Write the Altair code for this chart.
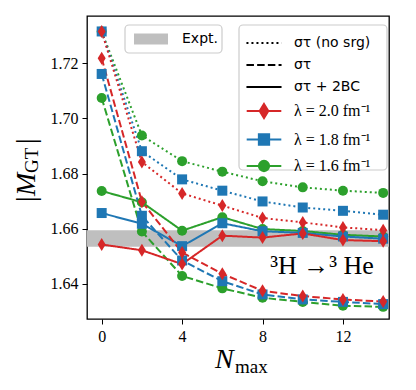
import altair as alt
import pandas as pd

# ---------------- data ----------------
n_max = [0, 2, 4, 6, 8, 10, 12, 14]
lam_labels = ["λ = 2.0 fm⁻¹", "λ = 1.8 fm⁻¹", "λ = 1.6 fm⁻¹"]
style_labels = ["στ (no srg)", "στ", "στ + 2BC"]
colors = ["#d62728", "#1f77b4", "#2ca02c"]

# sigma tau (no srg) -- dotted
nosrg_20 = [1.7315, 1.6842, 1.6728, 1.6684, 1.6639, 1.6623, 1.6605, 1.6595]
nosrg_18 = [1.7315, 1.6881, 1.6779, 1.6738, 1.6699, 1.6677, 1.6665, 1.6651]
nosrg_16 = [1.7315, 1.6938, 1.6845, 1.6807, 1.6772, 1.6750, 1.6738, 1.6730]
# sigma tau -- dashed
st_20 = [1.7218, 1.6698, 1.6514, 1.6437, 1.6375, 1.6356, 1.6344, 1.6336]
st_18 = [1.7161, 1.6647, 1.6485, 1.6410, 1.6362, 1.6344, 1.6335, 1.6327]
st_16 = [1.7074, 1.6590, 1.6429, 1.6384, 1.6350, 1.6335, 1.6321, 1.6317]
# sigma tau + 2BC -- solid
bc_20 = [1.6543, 1.6522, 1.6472, 1.6575, 1.6568, 1.6583, 1.6559, 1.6555]
bc_18 = [1.6657, 1.6618, 1.6537, 1.6620, 1.6591, 1.6585, 1.6572, 1.6564]
bc_16 = [1.6737, 1.6696, 1.6593, 1.6642, 1.6599, 1.6592, 1.6578, 1.6572]

expt_label = ["Expt."]
expt_lo = [1.6535]
expt_hi = [1.6595]

ann_text = ["³H →³ He"]
ann_x = [10.96]
ann_y = [1.6436]

# ---------------- tables ----------------
series = [
    (lam_labels[2], [nosrg_16, st_16, bc_16]),
    (lam_labels[1], [nosrg_18, st_18, bc_18]),
    (lam_labels[0], [nosrg_20, st_20, bc_20]),
]
rows = []
for lam, sets in series:
    for style, vals in zip(style_labels, sets):
        for n, v in zip(n_max, vals):
            rows.append({"N": n, "M": v, "lam": lam, "style": style,
                         "series": lam + "|" + style})
df = pd.DataFrame(rows)
band = pd.DataFrame({"label": expt_label, "lo": expt_lo, "hi": expt_hi})
ann = pd.DataFrame({"t": ann_text, "x": ann_x, "y": ann_y})
one = pd.DataFrame({"a": [0]})

xs = alt.Scale(domain=[-0.73, 14.29], nice=False, zero=False)
ys = alt.Scale(domain=[1.6273, 1.7371], nice=False, zero=False)

SERIF = "Liberation Serif"
SANS = "DejaVu Sans"

x_axis = alt.Axis(values=[0, 4, 8, 12], format="d", title=None, grid=False,
                  domain=False, ticks=True, tickSize=5, tickColor="black",
                  labelFont=SERIF, labelFontSize=16, labelColor="black",
                  labelPadding=4)
y_axis = alt.Axis(values=[1.64, 1.66, 1.68, 1.70, 1.72], format=".2f", title=None,
                  grid=False, domain=False, ticks=True, tickSize=5,
                  tickColor="black", labelFont=SERIF, labelFontSize=16,
                  labelColor="black", labelPadding=4)

X = alt.X("N:Q", scale=xs, axis=x_axis)
Y = alt.Y("M:Q", scale=ys, axis=y_axis)

diamond = "M0,-1.3L0.8,0L0,1.3L-0.8,0Z"
shape_range = [diamond, "square", "circle"]
legend_shapes = [
    "M-3.2,0H3.2M0,-1.3L0.8,0L0,1.3L-0.8,0Z",
    "M-3.2,0H3.2M-0.95,-0.95H0.95V0.95H-0.95Z",
    "M-3.2,0H3.2M0.95,0A0.95,0.95,0,1,1,-0.95,0A0.95,0.95,0,1,1,0.95,0Z",
]

dash_legend = alt.Legend(title=None, orient="none", legendX=170, legendY=20,
                         symbolType="M-4,0H4", symbolSize=77,
                         symbolStrokeWidth=2, symbolStrokeColor="black",
                         labelFont=SANS, labelFontSize=14, labelColor="black",
                         labelOffset=23, rowPadding=8, padding=0)
lam_legend = alt.Legend(title=None, orient="none", legendX=169, legendY=87,
                        symbolSize=117, symbolStrokeWidth=2, symbolOpacity=1,
                        labelFont=SERIF, labelFontSize=16, labelColor="black",
                        labelOffset=22, rowPadding=6.5, padding=0)
expt_legend = alt.Legend(title=None, orient="none", legendX=53, legendY=12,
                         symbolType="M-1.7,-0.55H1.7V0.55H-1.7Z", symbolSize=400,
                         labelFont=SANS, labelFontSize=14, labelColor="black",
                         labelOffset=20, padding=0)

base = alt.Chart(df)

band_layer = alt.Chart(band).mark_rect().encode(
    y=alt.Y("lo:Q", scale=ys, axis=y_axis), y2="hi:Q",
    fill=alt.Fill("label:N", scale=alt.Scale(range=["#bfbfbf"]), legend=expt_legend),
)

lines = base.mark_line(strokeWidth=2).encode(
    x=X, y=Y,
    color=alt.Color("lam:N", scale=alt.Scale(domain=lam_labels, range=colors), legend=None),
    strokeDash=alt.StrokeDash("style:N",
                              scale=alt.Scale(domain=style_labels,
                                              range=[[2, 3], [7.5, 3.2], [1, 0]]),
                              legend=dash_legend),
    detail="series:N",
)

points = base.mark_point(filled=True, size=100, opacity=1).encode(
    x=X, y=Y,
    color=alt.Color("lam:N", scale=alt.Scale(domain=lam_labels, range=colors), legend=None),
    shape=alt.Shape("lam:N", scale=alt.Scale(domain=lam_labels, range=shape_range), legend=None),
)

frame_style = dict(fill="white", fillOpacity=0.85, stroke="#cccccc", strokeWidth=1.2,
                   cornerRadius=4)
frame1 = alt.Chart(one).mark_rect(**frame_style).encode(
    x=alt.value(38), x2=alt.value(135), y=alt.value(9), y2=alt.value(37))
frame2 = alt.Chart(one).mark_rect(**frame_style).encode(
    x=alt.value(152), x2=alt.value(300), y=alt.value(9), y2=alt.value(154))

legend_layer = base.transform_filter("false").mark_point(
    filled=True, size=117, strokeWidth=2, opacity=1).encode(
    x=X, y=Y,
    fill=alt.Fill("lam:N", scale=alt.Scale(domain=lam_labels, range=colors), legend=lam_legend),
    stroke=alt.Stroke("lam:N", scale=alt.Scale(domain=lam_labels, range=colors), legend=lam_legend),
    shape=alt.Shape("lam:N", scale=alt.Scale(domain=lam_labels, range=legend_shapes), legend=lam_legend),
)

annot = alt.Chart(ann).mark_text(font=SERIF, fontSize=26, align="center",
                                 baseline="alphabetic", color="black").encode(
    x=alt.X("x:Q", scale=xs, axis=x_axis), y=alt.Y("y:Q", scale=ys, axis=y_axis), text="t:N")

def txt(s, x, y, size, style="normal", angle=0):
    return alt.Chart(one).mark_text(text=s, font=SERIF, fontSize=size, fontStyle=style,
                                    align="left", baseline="alphabetic", angle=angle,
                                    color="black").encode(x=alt.value(x), y=alt.value(y))

titles = [
    txt("N", 128, 352, 28, "italic"),
    txt("max", 148, 357, 19),
    txt("|", -52, 186, 28, angle=270),
    txt("M", -52, 180, 28, "italic", angle=270),
    txt("GT", -49, 157, 19, angle=270),
    txt("|", -52, 128, 28, angle=270),
]

chart = alt.layer(
    band_layer, lines, points, frame1, frame2, legend_layer, annot, *titles
).resolve_scale(
    shape="independent", fill="independent", stroke="independent"
).properties(
    width=302, height=303,
    autosize=alt.AutoSizeParams(type="none"),
    padding={"left": 79, "top": 8, "right": 7, "bottom": 71},
).configure_view(
    stroke="black", strokeWidth=1.3
).configure_axis(
    tickWidth=1, labelFont=SERIF, labelFontSize=16, labelColor="black"
).configure_legend(
    labelFont=SERIF, labelColor="black"
)

chart.save("out.html", embed_options={"renderer": "svg", "actions": False})
